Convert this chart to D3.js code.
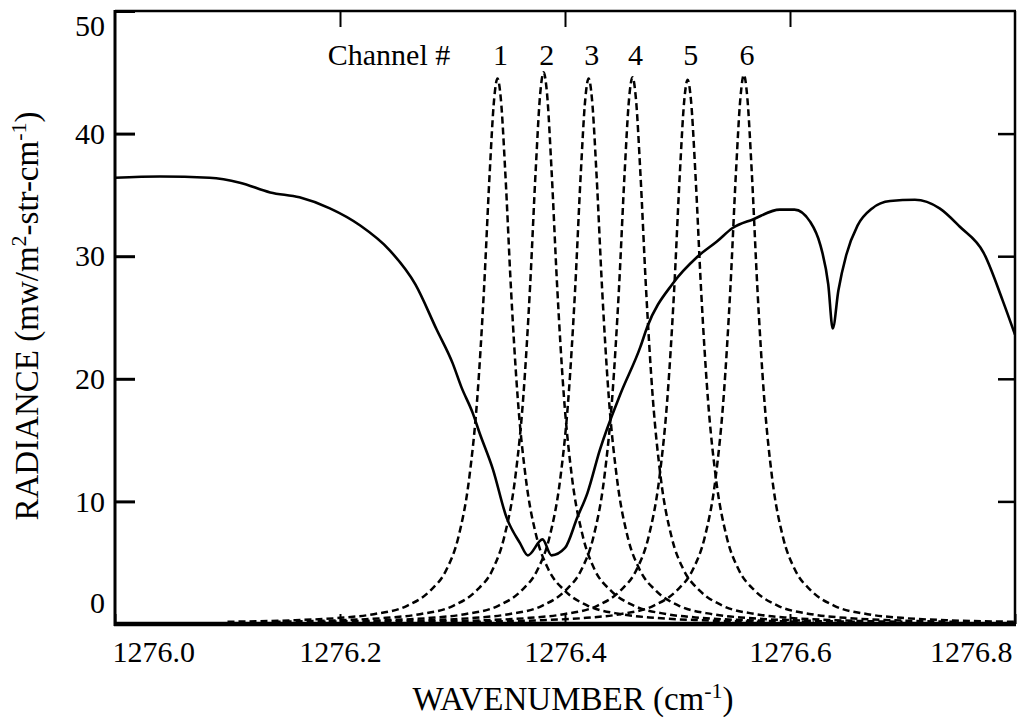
<!DOCTYPE html>
<html><head><meta charset="utf-8">
<script src="https://cdn.jsdelivr.net/npm/d3@7"></script>
<style>
html,body{margin:0;padding:0;background:#fff;}
svg text{font-family:"Liberation Serif","Times New Roman",serif;fill:#000;}
</style></head>
<body><svg id="chart" width="1021" height="721"></svg>
<script>
// ---- data ----
const xTicks = [1276.0, 1276.2, 1276.4, 1276.6, 1276.8];
const xTickLabels = ["1276.0", "1276.2", "1276.4", "1276.6", "1276.8"];
const yTicks = [0, 10, 20, 30, 40, 50];
const channelLabels = ["1", "2", "3", "4", "5", "6"];
const channelCenters = [1276.340, 1276.381, 1276.421, 1276.460, 1276.509, 1276.559];

const solidWn = [1276.000, 1276.040, 1276.084, 1276.111, 1276.138, 1276.164, 1276.191, 1276.218, 1276.244, 1276.267,
  1276.286, 1276.300, 1276.308, 1276.318, 1276.324, 1276.336, 1276.348, 1276.360, 1276.367, 1276.380,
  1276.388, 1276.400, 1276.411, 1276.420, 1276.431, 1276.449, 1276.467, 1276.473, 1276.496, 1276.517,
  1276.535, 1276.549, 1276.567, 1276.591, 1276.604, 1276.618, 1276.627, 1276.634, 1276.638, 1276.643,
  1276.650, 1276.660, 1276.673, 1276.689, 1276.711, 1276.733, 1276.751, 1276.772, 1276.789, 1276.800];
const solidVal = [36.4, 36.5, 36.4, 36.0, 35.2, 34.8, 33.9, 32.5, 30.5, 27.7,
  24.0, 21.3, 19.3, 17.2, 15.6, 12.6, 8.7, 6.6, 5.6, 6.9,
  5.6, 6.2, 8.7, 10.7, 14.2, 18.7, 22.6, 24.2, 27.8, 29.9,
  31.2, 32.3, 33.0, 33.8, 33.8, 32.8, 30.9, 27.7, 24.1, 27.2,
  30.1, 32.5, 33.9, 34.5, 34.6, 33.9, 32.4, 30.3, 26.4, 23.6];

const channel1 = [[1276.100,0.18],[1276.160,0.31],[1276.200,0.5],[1276.230,0.8],[1276.260,1.5],[1276.280,2.7],[1276.295,4.5],[1276.305,7.0],[1276.315,12.0],[1276.322,18.4],[1276.328,27.3],[1276.333,36.7],[1276.337,42.8],[1276.340,44.5],[1276.343,42.8],[1276.347,36.7],[1276.352,27.3],[1276.358,18.4],[1276.365,12.0],[1276.375,7.0],[1276.385,4.5],[1276.400,2.7],[1276.420,1.5],[1276.450,0.8],[1276.480,0.5],[1276.520,0.31],[1276.580,0.18]];
const channel2 = [[1276.141,0.18],[1276.201,0.31],[1276.241,0.5],[1276.271,0.8],[1276.301,1.5],[1276.321,2.7],[1276.336,4.5],[1276.346,7.1],[1276.356,12.1],[1276.363,18.6],[1276.369,27.6],[1276.374,37.1],[1276.378,43.3],[1276.381,45.0],[1276.384,43.3],[1276.388,37.1],[1276.393,27.6],[1276.399,18.6],[1276.406,12.1],[1276.416,7.1],[1276.426,4.5],[1276.441,2.7],[1276.461,1.5],[1276.491,0.8],[1276.521,0.5],[1276.561,0.31],[1276.621,0.18]];
const channel3 = [[1276.181,0.18],[1276.241,0.31],[1276.281,0.5],[1276.311,0.8],[1276.341,1.5],[1276.361,2.7],[1276.376,4.5],[1276.386,7.0],[1276.396,12.0],[1276.403,18.4],[1276.409,27.3],[1276.414,36.7],[1276.418,42.8],[1276.421,44.5],[1276.424,42.8],[1276.428,36.7],[1276.433,27.3],[1276.439,18.4],[1276.446,12.0],[1276.456,7.0],[1276.466,4.5],[1276.481,2.7],[1276.501,1.5],[1276.531,0.8],[1276.561,0.5],[1276.601,0.31],[1276.661,0.18]];
const channel4 = [[1276.220,0.18],[1276.280,0.31],[1276.320,0.5],[1276.350,0.8],[1276.380,1.5],[1276.400,2.7],[1276.415,4.5],[1276.425,7.0],[1276.435,12.0],[1276.442,18.5],[1276.448,27.4],[1276.453,36.8],[1276.457,42.9],[1276.460,44.6],[1276.463,42.9],[1276.467,36.8],[1276.472,27.4],[1276.478,18.5],[1276.485,12.0],[1276.495,7.0],[1276.505,4.5],[1276.520,2.7],[1276.540,1.5],[1276.570,0.8],[1276.600,0.5],[1276.640,0.31],[1276.700,0.18]];
const channel5 = [[1276.269,0.18],[1276.329,0.31],[1276.369,0.5],[1276.399,0.8],[1276.429,1.5],[1276.449,2.7],[1276.464,4.5],[1276.474,7.0],[1276.484,12.0],[1276.491,18.4],[1276.497,27.2],[1276.502,36.6],[1276.506,42.7],[1276.509,44.4],[1276.512,42.7],[1276.516,36.6],[1276.521,27.2],[1276.527,18.4],[1276.534,12.0],[1276.544,7.0],[1276.554,4.5],[1276.569,2.7],[1276.589,1.5],[1276.619,0.8],[1276.649,0.5],[1276.689,0.31],[1276.749,0.18]];
const channel6 = [[1276.319,0.18],[1276.379,0.31],[1276.419,0.5],[1276.449,0.8],[1276.479,1.5],[1276.499,2.7],[1276.514,4.5],[1276.524,7.0],[1276.534,12.0],[1276.541,18.5],[1276.547,27.4],[1276.552,36.9],[1276.556,43.0],[1276.559,44.8],[1276.562,43.0],[1276.566,36.9],[1276.571,27.4],[1276.577,18.5],[1276.584,12.0],[1276.594,7.0],[1276.604,4.5],[1276.619,2.7],[1276.639,1.5],[1276.669,0.8],[1276.699,0.5],[1276.739,0.31],[1276.799,0.18]];
const channels = [channel1, channel2, channel3, channel4, channel5, channel6];

// ---- layout ----
const svg = d3.select("#chart");
const mLeft = 115, mRight = 1015, mTop = 11, mBottom = 624;
const x = d3.scaleLinear().domain([1276.0, 1276.8]).range([mLeft, mRight]);
const y = d3.scaleLinear().domain([0, 50]).range([mBottom, mTop]);
const FS = 30, TFS = 33;

const plot = svg.append("g");
plot.append("clipPath").attr("id","clip").append("rect")
  .attr("x", mLeft).attr("y", mTop).attr("width", mRight-mLeft).attr("height", mBottom-mTop);

// channel dashed lines
const chLine = d3.line().x(d => x(d[0])).y(d => y(d[1])).curve(d3.curveMonotoneX);
plot.append("g").attr("clip-path","url(#clip)").selectAll("path.ch").data(channels).join("path")
  .attr("class","ch").attr("d", chLine)
  .attr("fill","none").attr("stroke","#000").attr("stroke-width",2.5)
  .attr("stroke-dasharray","7,4");

// solid radiance line
const solidData = solidWn.map((w,i) => [w, solidVal[i]]);
plot.append("path").attr("clip-path","url(#clip)").datum(solidData)
  .attr("d", d3.line().x(d => x(d[0])).y(d => y(d[1])).curve(d3.curveMonotoneX))
  .attr("fill","none").attr("stroke","#000").attr("stroke-width",2.6);

// axes
const axL = svg.append("g").attr("transform",`translate(${mLeft},0)`)
  .call(d3.axisLeft(y).tickValues(yTicks).tickSize(-19).tickPadding(10).tickFormat(d3.format("d")));
axL.select(".domain").remove();
axL.selectAll(".tick line").attr("stroke-width",3).attr("transform","translate(1,0)");
axL.selectAll(".tick text").attr("font-size",FS).attr("font-family","Liberation Serif")
  .attr("dy", d => d === 0 ? "-0.4em" : d === 50 ? "0.8em" : "0.32em");

const axR = svg.append("g").attr("transform",`translate(${mRight},0)`)
  .call(d3.axisRight(y).tickValues(yTicks.slice(1,5)).tickSize(-17).tickFormat(""));
axR.select(".domain").remove();
axR.selectAll(".tick line").attr("stroke-width",2.5);

const axT = svg.append("g").attr("transform",`translate(0,${mTop})`)
  .call(d3.axisTop(x).tickValues(xTicks.slice(1,4)).tickSize(-16).tickFormat(""));
axT.select(".domain").remove();
axT.selectAll(".tick line").attr("stroke-width",2);

const axB = svg.append("g").attr("transform",`translate(0,${mBottom})`)
  .call(d3.axisBottom(x).tickValues(xTicks).tickSize(-10).tickPadding(17)
    .tickFormat((d,i) => xTickLabels[i]));
axB.select(".domain").remove();
axB.selectAll(".tick line").attr("stroke-width",2);
axB.selectAll(".tick text").attr("font-size",FS).attr("font-family","Liberation Serif")
  .attr("text-anchor", (d,i) => i === 0 ? "start" : i === xTicks.length-1 ? "end" : "middle")
  .attr("dx", (d,i) => i === 0 ? -3 : i === xTicks.length-1 ? -3 : 0);

// frame
const frame = svg.append("g").attr("stroke","#000").attr("fill","none");
frame.append("line").attr("x1",mLeft).attr("x2",mLeft).attr("y1",mTop-1).attr("y2",mBottom+2).attr("stroke-width",3);
frame.append("line").attr("x1",mLeft-1).attr("x2",mRight+1).attr("y1",mBottom).attr("y2",mBottom).attr("stroke-width",4.5);
frame.append("line").attr("x1",mLeft).attr("x2",mRight+1).attr("y1",mTop).attr("y2",mTop).attr("stroke-width",2.5);
frame.append("line").attr("x1",mRight).attr("x2",mRight).attr("y1",mTop).attr("y2",mBottom).attr("stroke-width",2.5);

// channel labels
svg.append("text").attr("x",389).attr("y",65).attr("text-anchor","middle")
  .attr("font-size",FS).text("Channel #");
svg.selectAll("text.chlab").data(channelLabels).join("text").attr("class","chlab")
  .attr("x",(d,i) => x(channelCenters[i]) + 3).attr("y",65).attr("text-anchor","middle")
  .attr("font-size",FS).text(d => d);

// axis titles
const xt = svg.append("text").attr("x",573).attr("y",710).attr("text-anchor","middle").attr("font-size",TFS);
xt.append("tspan").text("WAVENUMBER (cm");
xt.append("tspan").attr("font-size",22).attr("dy",-12).text("-1");
xt.append("tspan").attr("dy",12).text(")");

const yt = svg.append("text").attr("transform","translate(38,316) rotate(-90)").attr("text-anchor","middle").attr("font-size",TFS);
yt.append("tspan").text("RADIANCE (mw/m");
yt.append("tspan").attr("font-size",22).attr("dy",-12).text("2");
yt.append("tspan").attr("dy",12).text("-str-cm");
yt.append("tspan").attr("font-size",22).attr("dy",-12).text("-1");
yt.append("tspan").attr("dy",12).text(")");
</script></body></html>
